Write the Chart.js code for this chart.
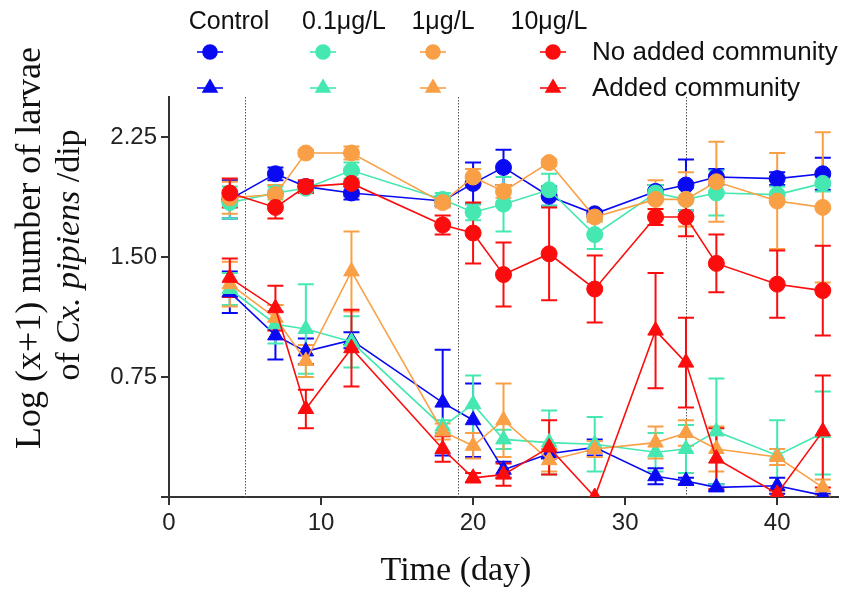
<!DOCTYPE html>
<html>
<head>
<meta charset="utf-8">
<script src="https://cdn.jsdelivr.net/npm/chart.js@4.4.1/dist/chart.umd.min.js"></script>
<style>
  html, body { margin: 0; padding: 0; background: #fff; }
  #wrap { width: 848px; height: 592px; }
</style>
</head>
<body>
<div id="wrap"><canvas id="chart" width="848" height="592"></canvas></div>
<script>
// ── Data ──────────────────────────────────────────────────────────────
const days       = [4, 7, 9, 12, 18, 20, 22, 25, 28, 32, 34, 36, 40, 43];
const xTicks     = [0, 10, 20, 30, 40];
const yTicks     = [0, 0.75, 1.5, 2.25];
const refDays    = [5, 19, 34];          // dotted vertical lines

const groups     = ['Control', '0.1μg/L', '1μg/L', '10μg/L'];
const rowLabels  = ['No added community', 'Added community'];

// No added community (circles)
const controlNo    = [1.86, 2.02, 1.94, 1.90, 1.85, 1.96, 2.06, 1.88, 1.77, 1.91, 1.95, 2.00, 1.99, 2.02];
const controlNoErr = [0.12, 0.04, 0.03, 0.04, 0.03, 0.13, 0.11, 0.06, 0.02, 0.04, 0.16, 0.05, 0.04, 0.10];
const low01No      = [1.84, 1.90, 1.93, 2.04, 1.86, 1.78, 1.83, 1.92, 1.64, 1.90, 1.86, 1.90, 1.89, 1.96];
const low01NoErr   = [0.10, 0.04, 0.03, 0.05, 0.04, 0.05, 0.17, 0.10, 0.09, 0.05, 0.07, 0.14, 0.05, 0.05];
const mid1No       = [1.87, 1.89, 2.15, 2.15, 1.84, 2.00, 1.91, 2.09, 1.75, 1.86, 1.86, 1.97, 1.85, 1.81];
const mid1NoErr    = [0.10, 0.06, 0.02, 0.04, 0.03, 0.05, 0.04, 0.02, 0.03, 0.12, 0.17, 0.25, 0.30, 0.47];
const high10No     = [1.90, 1.81, 1.94, 1.96, 1.70, 1.65, 1.39, 1.52, 1.30, 1.75, 1.75, 1.46, 1.33, 1.29];
const high10NoErr  = [0.09, 0.07, 0.04, 0.08, 0.06, 0.19, 0.20, 0.29, 0.21, 0.05, 0.12, 0.18, 0.21, 0.28];

// Added community (triangles)
const controlAdd    = [1.28, 1.01, 0.91, 0.98, 0.59, 0.48, 0.17, 0.27, 0.31, 0.13, 0.10, 0.06, 0.07, 0.01];
const controlAddErr = [0.13, 0.15, 0.08, 0.05, 0.33, 0.23, 0.05, 0.03, 0.05, 0.05, 0.02, 0.02, 0.05, 0.01];
const low01Add      = [1.30, 1.08, 1.05, 0.97, 0.44, 0.58, 0.36, 0.34, 0.33, 0.28, 0.30, 0.41, 0.26, 0.40];
const low01AddErr   = [0.10, 0.12, 0.28, 0.16, 0.04, 0.18, 0.06, 0.20, 0.17, 0.12, 0.15, 0.33, 0.22, 0.26];
const mid1Add       = [1.33, 1.12, 0.85, 1.41, 0.41, 0.32, 0.48, 0.23, 0.30, 0.34, 0.40, 0.30, 0.25, 0.06];
const mid1AddErr    = [0.14, 0.08, 0.10, 0.25, 0.05, 0.08, 0.23, 0.07, 0.05, 0.10, 0.08, 0.14, 0.05, 0.05];
const high10Add     = [1.37, 1.18, 0.55, 0.93, 0.30, 0.12, 0.14, 0.31, 0.00, 1.04, 0.84, 0.24, 0.02, 0.41];
const high10AddErr  = [0.12, 0.14, 0.12, 0.24, 0.08, 0.03, 0.07, 0.17, 0.00, 0.36, 0.28, 0.19, 0.02, 0.35];

// ── Styling ───────────────────────────────────────────────────────────
const COLORS    = ['#0a0af2', '#44e8b0', '#f9a046', '#fb0d0d'];
const SANS      = "'Liberation Sans', Arial, sans-serif";
const SERIF     = "'Liberation Serif', 'Times New Roman', serif";
const AXIS_INK  = '#333333';

const noSeries   = [controlNo, low01No, mid1No, high10No];
const noErrs     = [controlNoErr, low01NoErr, mid1NoErr, high10NoErr];
const addSeries  = [controlAdd, low01Add, mid1Add, high10Add];
const addErrs    = [controlAddErr, low01AddErr, mid1AddErr, high10AddErr];

function makeDataset(label, values, errs, color, style, order) {
  return {
    label,
    data: days.map((d, i) => ({ x: d, y: values[i] })),
    errs,
    borderColor: color,
    backgroundColor: color,
    pointBackgroundColor: color,
    pointBorderColor: color,
    pointStyle: style,
    pointRadius: style === 'circle' ? 8 : 9,
    pointBorderWidth: 1,
    borderWidth: 1.6,
    tension: 0,
    order,
  };
}

const datasets = [];
groups.forEach((g, i) => {
  datasets.push(makeDataset(g + ' ' + rowLabels[0], noSeries[i], noErrs[i], COLORS[i], 'circle', 3 - i));
  datasets.push(makeDataset(g + ' ' + rowLabels[1], addSeries[i], addErrs[i], COLORS[i], 'triangle', 3 - i));
});

// ── Extras: error bars, dotted lines, legend, axis titles ────────────
const extras = {
  id: 'extras',
  beforeDatasetsDraw(chart) {
    const { ctx, chartArea: a, scales: { x, y } } = chart;
    ctx.save();

    // dotted reference lines
    ctx.strokeStyle = '#555';
    ctx.lineWidth = 1;
    ctx.setLineDash([1.5, 1.5]);
    refDays.forEach(d => {
      const px = Math.round(x.getPixelForValue(d)) + 0.5;
      ctx.beginPath();
      ctx.moveTo(px, a.top);
      ctx.lineTo(px, a.bottom);
      ctx.stroke();
    });
    ctx.setLineDash([]);

    // error bars, bottom series first
    ctx.beginPath();
    ctx.rect(a.left, a.top - 20, a.right - a.left, a.bottom - a.top + 20);
    ctx.clip();
    const order = chart.data.datasets.map((ds, i) => i).sort((p, q) => chart.data.datasets[q].order - chart.data.datasets[p].order);
    order.forEach(i => {
      const ds = chart.data.datasets[i];
      ctx.strokeStyle = ds.borderColor;
      ctx.lineWidth = 2;
      ds.data.forEach((pt, k) => {
        const e = ds.errs[k];
        if (!e) return;
        const px = x.getPixelForValue(pt.x);
        const top = y.getPixelForValue(pt.y + e);
        const bot = y.getPixelForValue(Math.max(0, pt.y - e));
        ctx.beginPath();
        ctx.moveTo(px, top); ctx.lineTo(px, bot);
        ctx.moveTo(px - 8, top); ctx.lineTo(px + 8, top);
        if (pt.y - e > 0) { ctx.moveTo(px - 8, bot); ctx.lineTo(px + 8, bot); }
        ctx.stroke();
      });
    });
    ctx.restore();
  },
  afterDraw(chart) {
    const { ctx } = chart;
    ctx.save();

    // legend block
    const headX  = [229, 344, 443, 549];
    const markX  = [210, 323, 433, 553];
    const rowY   = [52, 88];
    ctx.fillStyle = '#111';
    ctx.font = '25px ' + SANS;
    ctx.textAlign = 'center';
    ctx.textBaseline = 'middle';
    groups.forEach((g, i) => ctx.fillText(g, headX[i], 22));
    ['circle', 'triangle'].forEach((style, r) => {
      groups.forEach((g, i) => {
        ctx.strokeStyle = COLORS[i];
        ctx.fillStyle = COLORS[i];
        ctx.lineWidth = 1.6;
        ctx.beginPath();
        ctx.moveTo(markX[i] - 13, rowY[r]);
        ctx.lineTo(markX[i] + 13, rowY[r]);
        ctx.stroke();
        Chart.helpers.drawPoint(ctx, {
          pointStyle: style, radius: style === 'circle' ? 7 : 8, rotation: 0, borderWidth: 1
        }, markX[i], rowY[r]);
      });
    });
    ctx.fillStyle = '#111';
    ctx.textAlign = 'left';
    ctx.font = '26px ' + SANS;
    rowLabels.forEach((t, r) => ctx.fillText(t, 592, rowY[r] + 1));

    // x axis title
    ctx.font = '34px ' + SERIF;
    ctx.textAlign = 'center';
    ctx.fillText('Time (day)', 456, 571);

    // y axis title, two lines, second one partly italic
    ctx.font = '36px ' + SERIF;
    ctx.translate(31, 248);
    ctx.rotate(-Math.PI / 2);
    ctx.fillText('Log (x+1) number of larvae', 0, 0);
    ctx.rotate(Math.PI / 2);
    ctx.translate(-31, -248);

    const parts = [
      { t: 'of ', f: '34px ' + SERIF },
      { t: 'Cx. pipiens', f: 'italic 34px ' + SERIF },
      { t: ' /dip', f: '34px ' + SERIF },
    ];
    let total = 0;
    parts.forEach(p => { ctx.font = p.f; p.w = ctx.measureText(p.t).width; total += p.w; });
    ctx.translate(70, 255);
    ctx.rotate(-Math.PI / 2);
    ctx.textAlign = 'left';
    let cx = -total / 2;
    parts.forEach(p => { ctx.font = p.f; ctx.fillText(p.t, cx, 0); cx += p.w; });
    ctx.restore();
  }
};

// ── Chart ─────────────────────────────────────────────────────────────
new Chart(document.getElementById('chart'), {
  type: 'line',
  data: { datasets },
  plugins: [extras],
  options: {
    responsive: false,
    animation: false,
    devicePixelRatio: 1,
    layout: { padding: { top: 97, right: 4, left: 0, bottom: 0 } },
    plugins: { legend: { display: false }, tooltip: { enabled: false } },
    scales: {
      x: {
        type: 'linear',
        min: 0, max: 44,
        afterBuildTicks: s => { s.ticks = xTicks.map(v => ({ value: v })); },
        afterFit: s => { s.height = 95; },
        grid: { drawOnChartArea: false, tickLength: 8, color: AXIS_INK, lineWidth: 2 },
        border: { color: AXIS_INK, width: 2 },
        ticks: { color: '#222', font: { family: SANS, size: 24 }, padding: 4, maxRotation: 0 },
      },
      y: {
        min: 0, max: 2.5,
        afterBuildTicks: s => { s.ticks = yTicks.map(v => ({ value: v })); },
        afterFit: s => { s.width = 169; },
        grid: { drawOnChartArea: false, tickLength: 8, color: AXIS_INK, lineWidth: 2 },
        border: { color: AXIS_INK, width: 2 },
        ticks: {
          color: '#222', font: { family: SANS, size: 24 }, padding: 4,
          callback: v => (v === 0 ? '' : v.toFixed(2)),
        },
      },
    },
  },
});
</script>
</body>
</html>
